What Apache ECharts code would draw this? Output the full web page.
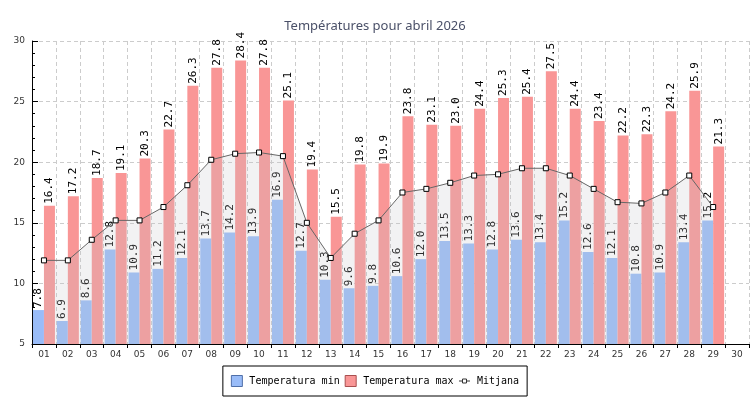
<!DOCTYPE html>
<html>
<head>
<meta charset="utf-8">
<script src="https://cdn.jsdelivr.net/npm/echarts@6/dist/echarts.min.js"></script>
<style>
  html, body { margin: 0; padding: 0; background: #fff; }
  #chart { width: 750px; height: 400px; }
</style>
</head>
<body>
<div id="chart"></div>
<script>
// dies del mes
const days = ['01','02','03','04','05','06','07','08','09','10','11','12','13','14','15',
  '16','17','18','19','20','21','22','23','24','25','26','27','28','29','30'];

// temperatures (dia 30 sense dades)
const tempMin = [7.8, 6.9, 8.6, 12.8, 10.9, 11.2, 12.1, 13.7, 14.2, 13.9, 16.9, 12.7, 10.3, 9.6, 9.8,
  10.6, 12.0, 13.5, 13.3, 12.8, 13.6, 13.4, 15.2, 12.6, 12.1, 10.8, 10.9, 13.4, 15.2, null];
const tempMax = [16.4, 17.2, 18.7, 19.1, 20.3, 22.7, 26.3, 27.8, 28.4, 27.8, 25.1, 19.4, 15.5, 19.8, 19.9,
  23.8, 23.1, 23.0, 24.4, 25.3, 25.4, 27.5, 24.4, 23.4, 22.2, 22.3, 24.2, 25.9, 21.3, null];
const tempMitjana = [11.9, 11.9, 13.6, 15.2, 15.2, 16.3, 18.1, 20.2, 20.7, 20.8, 20.5, 15.0, 12.1, 14.1, 15.2,
  17.5, 17.8, 18.3, 18.9, 19.0, 19.5, 19.5, 18.9, 17.8, 16.7, 16.6, 17.5, 18.9, 16.3, null];

const yTicks = [5, 10, 15, 20, 25, 30];

const chart = echarts.init(document.getElementById('chart'));

const barLabel = {
  show: true,
  position: 'top',
  rotate: 90,
  align: 'left',
  verticalAlign: 'middle',
  distance: 2,
  color: '#000',
  fontFamily: 'DejaVu Sans Mono',
  fontSize: 11,
  formatter: p => (p.value == null ? '' : p.value.toFixed(1))
};

chart.setOption({
  animation: false,
  title: {
    text: 'Températures pour abril 2026',
    left: 'center',
    top: 15,
    textStyle: { fontFamily: 'Noto Sans', fontSize: 13, fontWeight: 'normal', color: '#4a5068' }
  },
  legend: {
    left: 'center',
    top: 366,
    padding: [9, 8],
    itemGap: 5,
    itemWidth: 11,
    itemHeight: 11,
    borderColor: '#000',
    borderWidth: 1,
    backgroundColor: '#fff',
    textStyle: { fontFamily: 'DejaVu Sans Mono', fontSize: 10, color: '#000', padding: [0, 0, 0, 2] },
    data: [
      { name: 'Temperatura min', icon: 'rect', itemStyle: { borderColor: '#4f6fa8', borderWidth: 1 } },
      { name: 'Temperatura max', icon: 'rect', itemStyle: { borderColor: '#a84f4f', borderWidth: 1 } },
      {
        name: 'Mitjana',
        // línia amb el quadradet al mig
        icon: 'path://M0,2H3.5M3.5,0H7.5V4H3.5ZM7.5,2H11',
        itemStyle: { color: '#fff', borderColor: '#333', borderWidth: 1 }
      }
    ]
  },
  grid: { left: 32, right: 1, top: 41, bottom: 56 },
  xAxis: {
    type: 'category',
    data: days,
    axisLine: { lineStyle: { color: '#000', width: 1 } },
    axisTick: { show: true, length: 4, lineStyle: { color: '#000' } },
    axisLabel: { color: '#333', fontFamily: 'DejaVu Sans', fontSize: 9, margin: 6 },
    splitLine: { show: true, lineStyle: { color: '#cccccc', type: [4, 3] } }
  },
  yAxis: {
    type: 'value',
    min: yTicks[0],
    max: yTicks[yTicks.length - 1],
    interval: 5,
    axisLine: { show: true, lineStyle: { color: '#000', width: 1 } },
    axisTick: { show: true, inside: true, length: 6, lineStyle: { color: '#000' } },
    minorTick: { show: true, splitNumber: 5, length: 3, lineStyle: { color: '#000' } },
    axisLabel: { color: '#333', fontFamily: 'DejaVu Sans', fontSize: 9, margin: 7 },
    splitLine: { show: true, lineStyle: { color: '#cccccc', type: [4, 3] } }
  },
  series: [
    {
      name: 'Temperatura min',
      type: 'bar',
      data: tempMin,
      barGap: '0%',
      barCategoryGap: '8%',
      itemStyle: { color: '#99bcf8' },
      label: barLabel
    },
    {
      name: 'Temperatura max',
      type: 'bar',
      data: tempMax,
      itemStyle: { color: '#f99696' },
      label: barLabel
    },
    {
      name: 'Mitjana',
      type: 'line',
      data: tempMitjana,
      symbol: 'rect',
      symbolSize: 5,
      showAllSymbol: true,
      lineStyle: { color: '#666', width: 1 },
      itemStyle: { color: '#fff', borderColor: '#000', borderWidth: 1 },
      areaStyle: { color: 'rgba(195,195,200,0.32)', origin: 'start' },
      z: 3
    }
  ]
});
</script>
</body>
</html>
